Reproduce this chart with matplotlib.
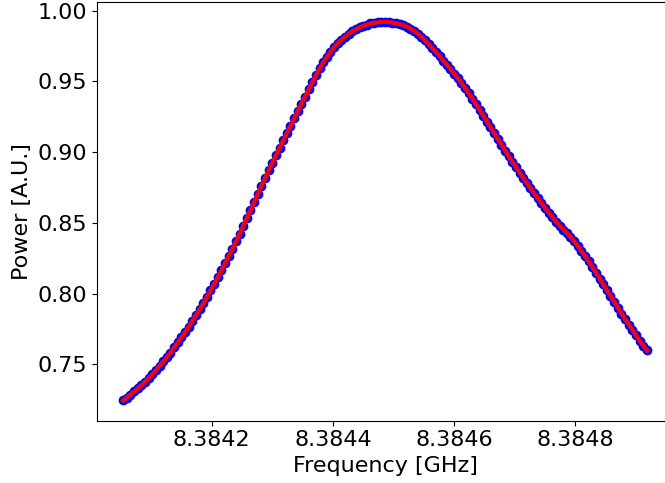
import matplotlib
matplotlib.use("Agg")
import matplotlib.pyplot as plt

freq_ghz = [
    8.384054, 8.384060, 8.384066, 8.384072, 8.384078, 8.384084, 8.384090, 8.384096,
    8.384102, 8.384108, 8.384114, 8.384120, 8.384126, 8.384132, 8.384138, 8.384144,
    8.384150, 8.384156, 8.384162, 8.384168, 8.384174, 8.384180, 8.384186, 8.384192,
    8.384198, 8.384204, 8.384210, 8.384216, 8.384222, 8.384228, 8.384234, 8.384240,
    8.384246, 8.384252, 8.384258, 8.384264, 8.384270, 8.384276, 8.384282, 8.384288,
    8.384294, 8.384300, 8.384306, 8.384312, 8.384318, 8.384324, 8.384330, 8.384336,
    8.384342, 8.384348, 8.384354, 8.384360, 8.384366, 8.384372, 8.384378, 8.384384,
    8.384390, 8.384396, 8.384402, 8.384408, 8.384414, 8.384420, 8.384426, 8.384432,
    8.384438, 8.384444, 8.384450, 8.384456, 8.384462, 8.384468, 8.384474, 8.384480,
    8.384486, 8.384492, 8.384498, 8.384504, 8.384510, 8.384516, 8.384522, 8.384528,
    8.384534, 8.384540, 8.384546, 8.384552, 8.384558, 8.384564, 8.384570, 8.384576,
    8.384582, 8.384588, 8.384594, 8.384600, 8.384606, 8.384612, 8.384618, 8.384624,
    8.384630, 8.384636, 8.384642, 8.384648, 8.384654, 8.384660, 8.384666, 8.384672,
    8.384678, 8.384684, 8.384690, 8.384696, 8.384702, 8.384708, 8.384714, 8.384720,
    8.384726, 8.384732, 8.384738, 8.384744, 8.384750, 8.384756, 8.384762, 8.384768,
    8.384774, 8.384780, 8.384786, 8.384792, 8.384798, 8.384804, 8.384810, 8.384816,
    8.384822, 8.384828, 8.384834, 8.384840, 8.384846, 8.384852, 8.384858, 8.384864,
    8.384870, 8.384876, 8.384882, 8.384888, 8.384894, 8.384900, 8.384906, 8.384912,
    8.384918,
]

power_au = [
    0.7244, 0.7265, 0.7286, 0.7308, 0.7329, 0.7352, 0.7378, 0.7403,
    0.7429, 0.7459, 0.7490, 0.7520, 0.7551, 0.7583, 0.7619, 0.7655,
    0.7691, 0.7727, 0.7766, 0.7807, 0.7848, 0.7889, 0.7930, 0.7977,
    0.8023, 0.8069, 0.8116, 0.8164, 0.8215, 0.8266, 0.8317, 0.8369,
    0.8423, 0.8479, 0.8535, 0.8592, 0.8649, 0.8706, 0.8762, 0.8818,
    0.8873, 0.8926, 0.8979, 0.9031, 0.9083, 0.9135, 0.9187, 0.9239,
    0.9290, 0.9342, 0.9393, 0.9444, 0.9494, 0.9544, 0.9592, 0.9635,
    0.9674, 0.9710, 0.9743, 0.9771, 0.9795, 0.9817, 0.9837, 0.9855,
    0.9870, 0.9882, 0.9893, 0.9902, 0.9910, 0.9915, 0.9919, 0.9921,
    0.9922, 0.9920, 0.9916, 0.9911, 0.9905, 0.9898, 0.9887, 0.9873,
    0.9856, 0.9838, 0.9816, 0.9791, 0.9764, 0.9736, 0.9707, 0.9678,
    0.9648, 0.9617, 0.9587, 0.9556, 0.9523, 0.9488, 0.9452, 0.9415,
    0.9378, 0.9339, 0.9298, 0.9257, 0.9216, 0.9175, 0.9134, 0.9093,
    0.9052, 0.9011, 0.8971, 0.8932, 0.8894, 0.8855, 0.8817, 0.8780,
    0.8744, 0.8709, 0.8674, 0.8639, 0.8605, 0.8572, 0.8540, 0.8509,
    0.8480, 0.8453, 0.8426, 0.8399, 0.8370, 0.8336, 0.8300, 0.8264,
    0.8227, 0.8188, 0.8147, 0.8106, 0.8065, 0.8024, 0.7983, 0.7941,
    0.7900, 0.7859, 0.7819, 0.7781, 0.7742, 0.7704, 0.7666, 0.7632,
    0.7598,
]

xtick_values = [8.3842, 8.3844, 8.3846, 8.3848]
xtick_labels = ["8.3842", "8.3844", "8.3846", "8.3848"]
ytick_values = [0.75, 0.80, 0.85, 0.90, 0.95, 1.00]
ytick_labels = ["0.75", "0.80", "0.85", "0.90", "0.95", "1.00"]

fig = plt.figure(figsize=(6.65, 4.83), dpi=100)
ax = fig.add_axes([97 / 665, (483 - 420.7) / 483, 576 / 665, 418.7 / 483])

ax.plot(freq_ghz, power_au, "bo", markersize=6)
ax.plot(freq_ghz, power_au, "r-", linewidth=3)

ax.set_xticks(xtick_values)
ax.set_xticklabels(xtick_labels, fontsize=16)
ax.set_yticks(ytick_values)
ax.set_yticklabels(ytick_labels, fontsize=16)
ax.set_ylim(0.7101, 1.0062)

ax.set_xlabel("Frequency [GHz]", fontsize=16)
ax.set_ylabel("Power [A.U.]", fontsize=16)

fig.savefig("out.png", dpi=100)
